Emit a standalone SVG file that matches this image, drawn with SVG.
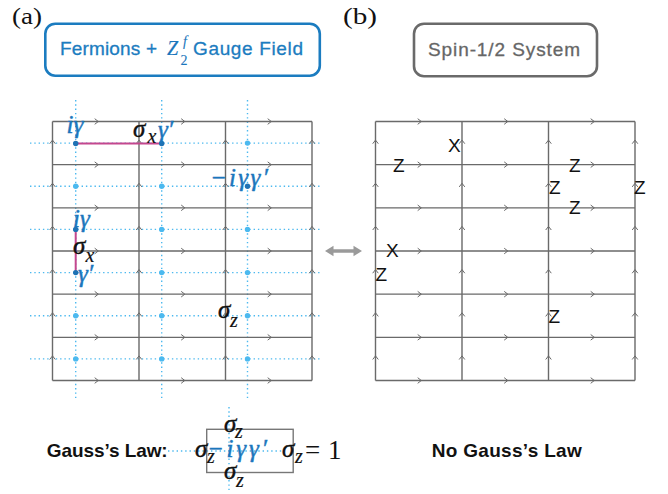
<svg xmlns="http://www.w3.org/2000/svg" xmlns:xlink="http://www.w3.org/1999/xlink" width="668" height="494" viewBox="0 0 668 494">
<style>
.grid{stroke:#6a6a6a;stroke-width:1.4;fill:none}
.ch{stroke:#6a6a6a;stroke-width:1;fill:none}
.dl{stroke:#4cb9ef;stroke-width:1.4;stroke-dasharray:1.4 2.9;fill:none}
.ld{fill:#4cb9ef}
.dd{fill:#1f72b4}
.pink{stroke:#c4478e;stroke-width:2;fill:none}
.m{font-family:"Liberation Serif","Times New Roman",serif;font-style:italic;font-size:25px;fill:#111;stroke:#111;stroke-width:0.45}
.sub{font-size:20px;stroke-width:0.2}
.blue{fill:#1b76bc;stroke:#1b76bc}
.up{font-style:normal}
.hdr{font-family:"Liberation Sans",Arial,sans-serif;font-size:19px}
.spin{font-family:"Liberation Sans",Arial,sans-serif;font-size:19px;fill:#111}
.lbl{font-family:"Liberation Serif","Times New Roman",serif;font-size:24px;fill:#111}
.bold{font-family:"Liberation Sans",Arial,sans-serif;font-weight:bold;font-size:19px;fill:#111}
</style>
<defs>
<path id="cr" class="ch" d="M-3.6,-2.8L0,0L-3.6,2.8"/>
<path id="cu" class="ch" d="M-2.8,3.6L0,0L2.8,3.6"/>
<g id="lattice">
<path class="grid" d="M52.5,121.5H312M52.5,164.67H312M52.5,207.83H312M52.5,251H312M52.5,294.17H312M52.5,337.33H312M52.5,380.5H312M52.5,121.5V380.5M139,121.5V380.5M225.5,121.5V380.5M312,121.5V380.5"/>
<use href="#cr" x="98.3" y="121.5"/><use href="#cr" x="184.8" y="121.5"/><use href="#cr" x="271.3" y="121.5"/>
<use href="#cr" x="98.3" y="164.67"/><use href="#cr" x="184.8" y="164.67"/><use href="#cr" x="271.3" y="164.67"/>
<use href="#cr" x="98.3" y="207.83"/><use href="#cr" x="184.8" y="207.83"/><use href="#cr" x="271.3" y="207.83"/>
<use href="#cr" x="98.3" y="251"/><use href="#cr" x="184.8" y="251"/><use href="#cr" x="271.3" y="251"/>
<use href="#cr" x="98.3" y="294.17"/><use href="#cr" x="184.8" y="294.17"/><use href="#cr" x="271.3" y="294.17"/>
<use href="#cr" x="98.3" y="337.33"/><use href="#cr" x="184.8" y="337.33"/><use href="#cr" x="271.3" y="337.33"/>
<use href="#cr" x="98.3" y="380.5"/><use href="#cr" x="184.8" y="380.5"/><use href="#cr" x="271.3" y="380.5"/>
<use href="#cu" x="52.5" y="140.1"/><use href="#cu" x="52.5" y="183.3"/><use href="#cu" x="52.5" y="226.4"/><use href="#cu" x="52.5" y="269.6"/><use href="#cu" x="52.5" y="312.8"/><use href="#cu" x="52.5" y="355.9"/>
<use href="#cu" x="139" y="140.1"/><use href="#cu" x="139" y="183.3"/><use href="#cu" x="139" y="226.4"/><use href="#cu" x="139" y="269.6"/><use href="#cu" x="139" y="312.8"/><use href="#cu" x="139" y="355.9"/>
<use href="#cu" x="225.5" y="140.1"/><use href="#cu" x="225.5" y="183.3"/><use href="#cu" x="225.5" y="226.4"/><use href="#cu" x="225.5" y="269.6"/><use href="#cu" x="225.5" y="312.8"/><use href="#cu" x="225.5" y="355.9"/>
<use href="#cu" x="312" y="140.1"/><use href="#cu" x="312" y="183.3"/><use href="#cu" x="312" y="226.4"/><use href="#cu" x="312" y="269.6"/><use href="#cu" x="312" y="312.8"/><use href="#cu" x="312" y="355.9"/>
</g>
</defs>
<rect width="668" height="494" fill="#fff"/>

<g id="panel-labels">
<text class="lbl" x="12" y="23.5" textLength="30" lengthAdjust="spacingAndGlyphs">(a)</text>
<text class="lbl" x="343" y="24" textLength="34" lengthAdjust="spacingAndGlyphs">(b)</text>
</g>

<g id="header-a">
<rect x="45.3" y="23.7" width="274.5" height="52" rx="10" fill="#fff" stroke="#1b7cc0" stroke-width="2.6"/>
<text class="hdr" x="60" y="55" fill="#1b7cc0" stroke="#1b7cc0" stroke-width="0.3" textLength="97" lengthAdjust="spacing">Fermions +</text>
<text class="m blue" x="167" y="55" style="font-size:20px;stroke-width:0.2px">Z</text>
<text class="m blue" x="183" y="46" style="font-size:14px;stroke-width:0.1px">f</text>
<text class="m blue up" x="180.5" y="64.5" style="font-size:14px;stroke-width:0.1px">2</text>
<text class="hdr" x="193" y="55" fill="#1b7cc0" stroke="#1b7cc0" stroke-width="0.3" textLength="110" lengthAdjust="spacing">Gauge Field</text>
</g>

<g id="header-b">
<rect x="414" y="23.7" width="183" height="52.5" rx="10" fill="#fff" stroke="#6a6a6a" stroke-width="2.6"/>
<text class="hdr" x="428" y="55.5" fill="#666" stroke="#666" stroke-width="0.3" textLength="152" lengthAdjust="spacing">Spin-1/2 System</text>
</g>

<g id="lattice-a">
<g id="dotted-lines">
<path class="dl" d="M75.7,100V400M161.7,100V400M247.5,100V400M30,143.08H321M30,186.25H321M30,229.42H321M30,272.58H321M30,315.75H321M30,358.92H321"/>
</g>
<use href="#lattice"/>
<g id="sites">
<circle class="ld" cx="75.7" cy="186.25" r="2.7"/><circle class="ld" cx="75.7" cy="315.75" r="2.7"/><circle class="ld" cx="75.7" cy="358.92" r="2.7"/>
<circle class="ld" cx="161.7" cy="186.25" r="2.7"/><circle class="ld" cx="161.7" cy="229.42" r="2.7"/><circle class="ld" cx="161.7" cy="272.58" r="2.7"/><circle class="ld" cx="161.7" cy="315.75" r="2.7"/><circle class="ld" cx="161.7" cy="358.92" r="2.7"/>
<circle class="ld" cx="247.5" cy="143.08" r="2.7"/><circle class="ld" cx="247.5" cy="229.42" r="2.7"/><circle class="ld" cx="247.5" cy="272.58" r="2.7"/><circle class="ld" cx="247.5" cy="315.75" r="2.7"/><circle class="ld" cx="247.5" cy="358.92" r="2.7"/>
</g>
<g id="operators">
<path class="pink" d="M75.7,143.5H161.7M75.7,229.42V272.58"/>
<circle class="dd" cx="75.7" cy="143.5" r="2.7"/><circle class="dd" cx="161.7" cy="143.5" r="2.7"/>
<circle class="dd" cx="247.5" cy="186.25" r="2.7"/>
<circle class="dd" cx="75.7" cy="229.42" r="2.7"/><circle class="dd" cx="75.7" cy="272.58" r="2.7"/>
<text class="m blue" x="66.5" y="132.5">iγ</text>
<text class="m" x="133" y="137">σ</text><text class="m sub" x="147.5" y="143">x</text>
<text class="m blue" x="158" y="137.5">γ′</text>
<text class="m blue" x="210" y="186" textLength="58" lengthAdjust="spacing">−iγγ′</text>
<text class="m blue" x="73" y="227">iγ</text>
<text class="m" x="73" y="253.5">σ</text><text class="m sub" x="85.5" y="262">x</text>
<text class="m blue" x="78" y="282">γ′</text>
<text class="m" x="218" y="318.3">σ</text><text class="m sub" x="230" y="326.5">z</text>
</g>
</g>

<g id="mapping-arrow">
<polygon fill="#9a9a9a" points="325,251 333.5,245.8 333.5,249.2 353.5,249.2 353.5,245.8 362,251 353.5,256.2 353.5,252.8 333.5,252.8 333.5,256.2"/>
</g>

<g id="lattice-b">
<use href="#lattice" x="323"/>
<g id="spin-ops">
<text class="spin" x="448" y="152">X</text>
<text class="spin" x="393" y="172">Z</text>
<text class="spin" x="569" y="172">Z</text>
<text class="spin" x="549" y="194">Z</text>
<text class="spin" x="634" y="194">Z</text>
<text class="spin" x="569" y="214">Z</text>
<text class="spin" x="386" y="257">X</text>
<text class="spin" x="375.5" y="281">Z</text>
<text class="spin" x="548.5" y="323">Z</text>
</g>
</g>

<g id="gauss-law">
<text class="bold" x="46.7" y="456.7" textLength="121" lengthAdjust="spacing">Gauss’s Law:</text>
<path class="dl" d="M229,407V493M168,451H283"/>
<rect x="206.7" y="429.3" width="86.5" height="43.2" fill="none" stroke="#777" stroke-width="1.4"/>
<text class="m" x="224" y="431.7">σ</text><text class="m sub" x="235" y="437.5">z</text>
<text class="m" x="195" y="456.7">σ</text><text class="m sub" x="207" y="463">z</text>
<text class="m blue" x="207" y="456.5" textLength="60" lengthAdjust="spacing">−iγγ′</text>
<text class="m" x="282" y="456.7">σ</text><text class="m sub" x="295" y="463">z</text>
<text class="lbl" y="458.5" style="font-size:27px"><tspan x="305">=</tspan><tspan x="328">1</tspan></text>
<text class="m" x="224" y="478.5">σ</text><text class="m sub" x="236" y="487">z</text>
</g>

<g id="no-gauss-law">
<text class="bold" x="431.7" y="456.7" textLength="150" lengthAdjust="spacing">No Gauss’s Law</text>
</g>
</svg>
